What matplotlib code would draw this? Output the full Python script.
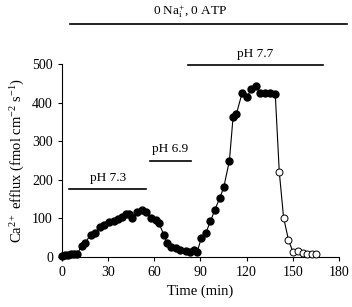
import matplotlib
matplotlib.use("Agg")
import matplotlib.pyplot as plt

plt.rcParams['font.family'] = ['Liberation Serif', 'DejaVu Serif']
plt.rcParams['mathtext.fontset'] = 'custom'
plt.rcParams['mathtext.rm'] = 'Liberation Serif'
plt.rcParams['mathtext.it'] = 'Liberation Serif:italic'

# Filled symbols (time in min, Ca2+ efflux)
time_filled = [0, 2, 4, 6, 8, 10, 12.8, 14.9, 18.6, 21.4, 25, 27.2, 30.4, 33.7, 36.3,
               38.9, 41.3, 43.5, 45.8, 49, 52.3, 54.4, 57.6, 60.9, 63, 66.3, 68.4,
               70.6, 73.8, 77, 80.3, 83.5, 85.7, 87.9, 90.5, 93.3, 96.5, 99.3, 102.5,
               105.1, 108.8, 111.2, 113.3, 117, 120.3, 122.9, 126.3, 128.9, 132.1,
               135.4, 138.6]
efflux_filled = [3, 5, 6, 7, 8, 8, 29, 36, 57, 62, 78, 83, 91, 93, 98,
                 104, 111, 112, 102, 116, 122, 116, 102, 96, 87, 57, 35,
                 27, 22, 18, 15, 14, 18, 14, 48, 61, 92, 122, 152,
                 180, 249, 363, 370, 424, 415, 434, 443, 424, 424,
                 424, 422]
# Open symbols
time_open = [141.2, 144, 147.2, 150, 153.3, 156.5, 159.5, 162.4, 165.2]
efflux_open = [221, 102, 44, 14, 16, 9, 7, 7, 7]

# Condition bars: (label, start, end, level)
bar_labels = ['pH 7.3', 'pH 6.9', 'pH 7.7']
bar_start = [4.7, 57, 82]
bar_end = [54.9, 84, 169.5]
bar_level = [176, 249, 497]

xticks = [0, 30, 60, 90, 120, 150, 180]
yticks = [0, 100, 200, 300, 400, 500]

fig = plt.figure(figsize=(3.52, 3.07), dpi=100)
ax = fig.add_axes([0.176, 0.163, 0.787, 0.6285])

ax.plot(time_filled + time_open, efflux_filled + efflux_open, color='black',
        lw=0.8, zorder=2, clip_on=False)
ax.plot(time_filled, efflux_filled, 'o', color='black', ms=5, zorder=3, clip_on=False)
ax.plot(time_open, efflux_open, 'o', mfc='white', mec='black', mew=0.7, ms=5,
        zorder=3, clip_on=False)

for lab, s, e, lv in zip(bar_labels, bar_start, bar_end, bar_level):
    ax.plot([s, e], [lv, lv], color='black', lw=1.2, clip_on=False)
    ax.text((s + e) / 2, lv + 14, lab, ha='center', va='bottom', fontsize=9.5)

# top bar
ax.plot([5, 185], [604, 604], color='black', lw=1.2, clip_on=False)
ax.text(83, 614, r'0 Na$_{\mathrm{i}}^{+}$, 0 ATP', ha='center', va='bottom', fontsize=9.5)

ax.set_xlim(0, 180)
ax.set_ylim(0, 500)
ax.set_xticks(xticks)
ax.set_yticks(yticks)
ax.spines['top'].set_visible(False)
ax.spines['right'].set_visible(False)
ax.tick_params(direction='out', length=3, labelsize=10, width=0.8)
ax.set_xlabel('Time (min)', fontsize=10.5)
ax.set_ylabel(r'Ca$^{2+}$ efflux (fmol cm$^{-2}$ s$^{-1}$)', fontsize=10.5)

fig.savefig('out.png', dpi=100)
